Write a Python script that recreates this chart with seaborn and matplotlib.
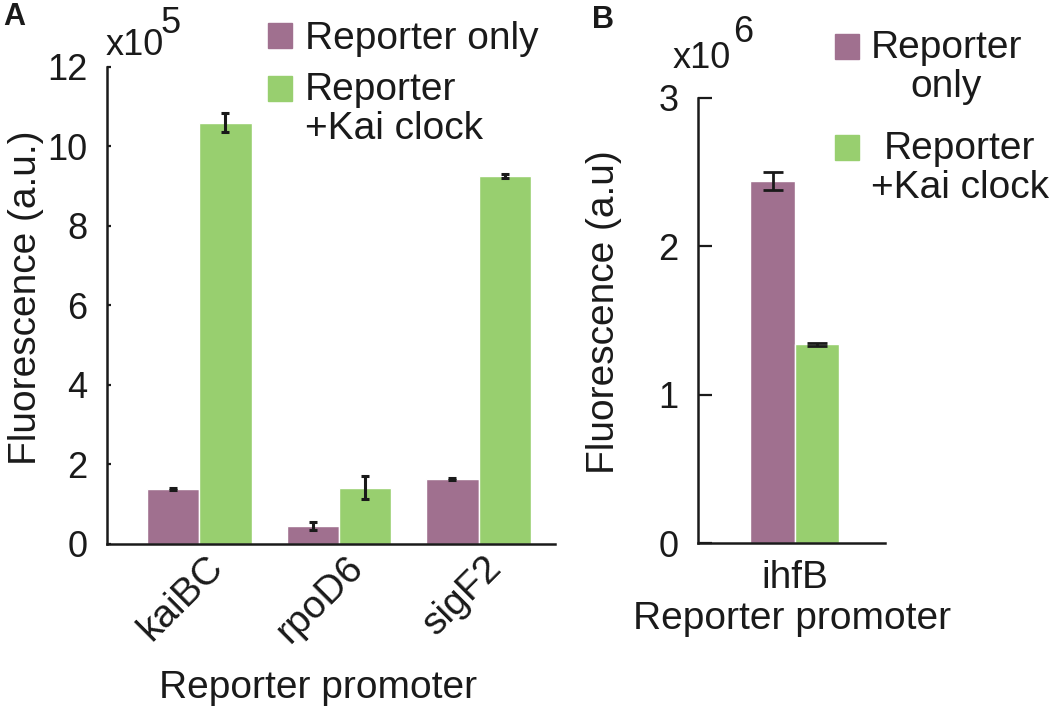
import matplotlib
matplotlib.use("Agg")
import matplotlib.pyplot as plt
import matplotlib.transforms as mtransforms
from matplotlib.legend_handler import HandlerPatch
import numpy as np
import pandas as pd
import seaborn as sns

# Panel A data (x10^5 a.u.)
promoters_a = ["kaiBC", "rpoD6", "sigF2"]
reporter_only_a = [1.38, 0.45, 1.63]
reporter_only_a_err = [0.02, 0.10, 0.03]
kai_clock_a = [10.59, 1.41, 9.26]
kai_clock_a_err = [0.24, 0.29, 0.05]

# Panel B data (x10^6 a.u.)
promoters_b = ["ihfB"]
reporter_only_b = [2.44]
reporter_only_b_err = [0.06]
kai_clock_b = [1.34]
kai_clock_b_err = [0.01]

groups = ["Reporter only", "Reporter +Kai clock"]
PURPLE = "#a0708f"
GREEN = "#98cf6f"
INK = "#1a1a1a"
palette = {groups[0]: PURPLE, groups[1]: GREEN}

LABEL_FS = 28
TICK_FS = 26
LINESP = 1.1

sns.set_theme(style="white")
plt.rcParams["font.family"] = ["Liberation Sans", "DejaVu Sans"]
plt.rcParams["text.color"] = INK


class FirstLineHandler(HandlerPatch):
    """Square legend key lined up with the first line of a 2-line label."""

    def create_artists(self, legend, orig_handle, xdescent, ydescent,
                       width, height, fontsize, trans):
        arts = super().create_artists(legend, orig_handle, xdescent, ydescent,
                                      width, height, fontsize, trans)
        for a in arts:
            a.set_y(a.get_y() + 0.5 * LINESP * fontsize)
        return arts


def long_form(promoters, only, kai):
    return pd.DataFrame({
        "promoter": promoters * 2,
        "group": [groups[0]] * len(promoters) + [groups[1]] * len(promoters),
        "value": list(only) + list(kai),
    })


def add_errors(ax, errs, capsize, lw):
    # one container per hue level, bars in category order
    for cont, err in zip(ax.containers, errs):
        xs = [b.get_x() + b.get_width() / 2 for b in cont]
        ys = [b.get_height() for b in cont]
        ax.errorbar(xs, ys, yerr=err, fmt="none", ecolor=INK,
                    elinewidth=lw, capsize=capsize, capthick=lw, zorder=3)


def style_axis(ax, ticklen):
    sns.despine(ax=ax)
    for s in ("left", "bottom"):
        ax.spines[s].set_linewidth(1.8)
        ax.spines[s].set_color(INK)
    ax.tick_params(axis="y", direction="in", length=ticklen, width=1.6,
                   color=INK, labelcolor=INK, labelsize=TICK_FS, pad=14,
                   left=True)
    ax.tick_params(axis="x", length=0, labelsize=LABEL_FS, labelcolor=INK)


def px(x, y):
    # figure pixel (from top-left) -> figure fraction
    return x / 1050, 1 - y / 710


fig = plt.figure(figsize=(10.5, 7.1), dpi=100)

# ---- Panel A ----
ax_a = fig.add_axes([0.102, 0.234, 0.427, 0.672])
sns.barplot(data=long_form(promoters_a, reporter_only_a, kai_clock_a),
            x="promoter", y="value", hue="group", palette=palette,
            width=0.75, errorbar=None, saturation=1, legend=False, ax=ax_a)
add_errors(ax_a, [reporter_only_a_err, kai_clock_a_err], capsize=3, lw=2.2)
ax_a.set_ylim(0, 12)
ax_a.set_xlim(-0.66, 2.55)
ax_a.set_yticks([0, 2, 4, 6, 8, 10, 12])
style_axis(ax_a, 3)
ax_a.tick_params(axis="x", pad=4)
shift = mtransforms.ScaledTranslation(4 / 72, 0, fig.dpi_scale_trans)
for lab in ax_a.get_xticklabels():
    lab.set_rotation(45)
    lab.set_ha("right")
    lab.set_rotation_mode("anchor")
    lab.set_transform(lab.get_transform() + shift)
ax_a.set_xlabel("Reporter promoter", fontsize=LABEL_FS, color=INK)
ax_a.xaxis.set_label_coords(0.47, -0.265)
ax_a.set_ylabel("Fluorescence (a.u.)", fontsize=LABEL_FS, color=INK)
ax_a.yaxis.set_label_coords(-0.14, 0.515)
fig.text(*px(106, 55), "x10", fontsize=TICK_FS, va="baseline")
fig.text(*px(161, 33), "5", fontsize=TICK_FS, va="baseline")
fig.text(*px(3, 17), "A", fontsize=22, fontweight="bold", va="center")

h_only = plt.Rectangle((0, 0), 1, 1, color=PURPLE)
h_kai = plt.Rectangle((0, 0), 1, 1, color=GREEN)
leg_a = ax_a.legend([h_only, h_kai], ["Reporter only", "Reporter\n+Kai clock"],
                    handler_map={h_only: HandlerPatch(),
                                 h_kai: FirstLineHandler()},
                    loc="upper left", bbox_to_anchor=px(268, 21),
                    bbox_transform=fig.transFigure, frameon=False,
                    fontsize=LABEL_FS, handlelength=0.62, handleheight=0.62,
                    handletextpad=0.33, labelspacing=0.38, borderpad=0,
                    borderaxespad=0)
for t in leg_a.get_texts():
    t.set_linespacing(LINESP)

# ---- Panel B ----
ax_b = fig.add_axes([0.665, 0.235, 0.178, 0.627])
sns.barplot(data=long_form(promoters_b, reporter_only_b, kai_clock_b),
            x="promoter", y="value", hue="group", palette=palette,
            width=0.75, errorbar=None, saturation=1, legend=False, ax=ax_b)
add_errors(ax_b, [reporter_only_b_err, kai_clock_b_err], capsize=7, lw=2.0)
ax_b.set_ylim(0, 3)
ax_b.set_xlim(-0.815, 0.76)
ax_b.set_yticks([0, 1, 2, 3])
style_axis(ax_b, 10)
ax_b.tick_params(axis="x", pad=12)
ax_b.set_xlabel("Reporter promoter", fontsize=LABEL_FS, color=INK,
                labelpad=4)
ax_b.set_ylabel("Fluorescence (a.u)", fontsize=LABEL_FS, color=INK)
ax_b.yaxis.set_label_coords(-0.41, 0.52)
fig.text(*px(673, 68), "x10", fontsize=TICK_FS, va="baseline")
fig.text(*px(733, 42), "6", fontsize=TICK_FS, va="baseline")
fig.text(*px(592, 20), "B", fontsize=22, fontweight="bold", va="center")

h_only_b = plt.Rectangle((0, 0), 1, 1, color=PURPLE)
h_kai_b = plt.Rectangle((0, 0), 1, 1, color=GREEN)
leg_b = ax_b.legend([h_only_b, h_kai_b],
                    ["Reporter\nonly", "Reporter\n+Kai clock"],
                    handler_map={h_only_b: FirstLineHandler(),
                                 h_kai_b: FirstLineHandler()},
                    loc="upper left", bbox_to_anchor=px(835, 30),
                    bbox_transform=fig.transFigure, frameon=False,
                    fontsize=LABEL_FS, handlelength=0.62, handleheight=0.62,
                    handletextpad=0.3, labelspacing=0.68, borderpad=0,
                    borderaxespad=0)
for t in leg_b.get_texts():
    t.set_multialignment("center")
    t.set_linespacing(LINESP)

fig.savefig("out.png", dpi=100)
